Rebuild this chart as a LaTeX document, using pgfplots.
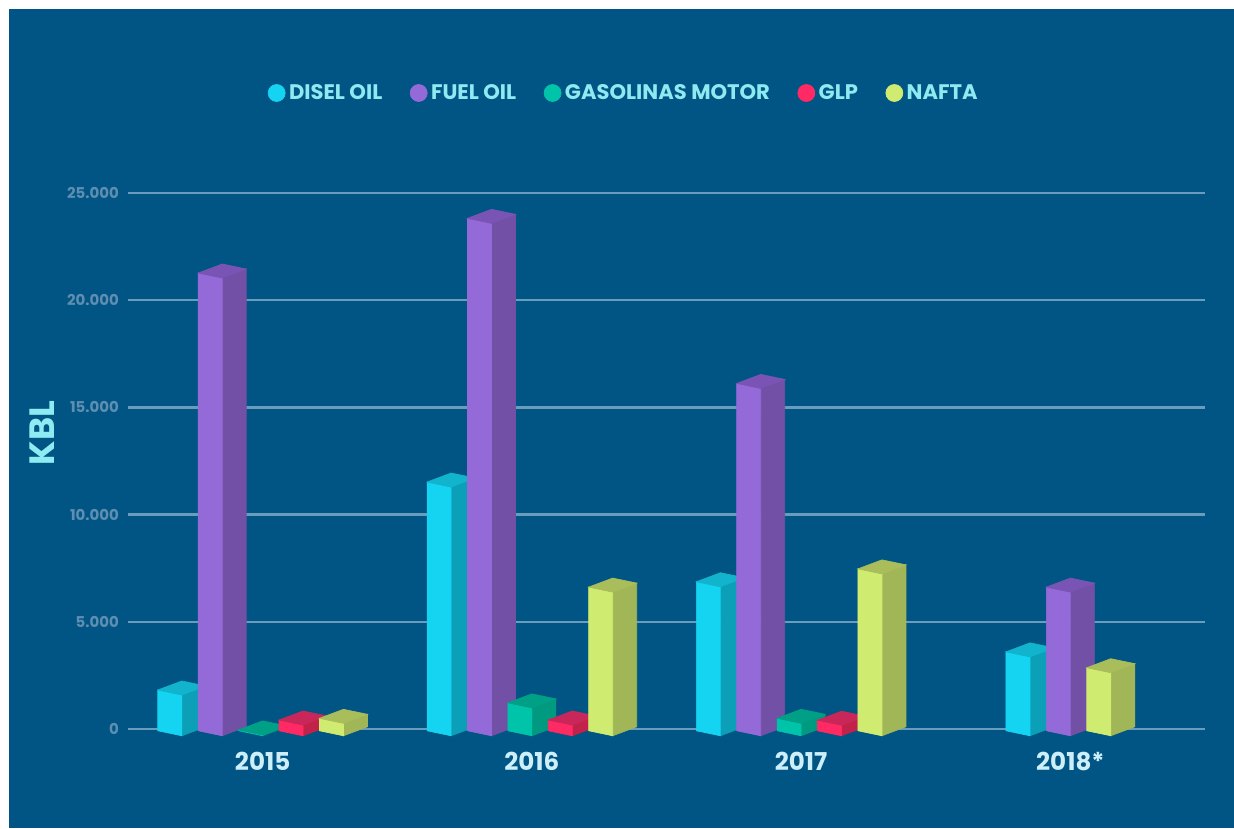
\documentclass[border=0pt]{standalone}
\usepackage{pgfplots}
\pgfplotsset{compat=1.18}
\usepackage{fontspec}
\setmainfont{Poppins}

\definecolor{bgc}{HTML}{015584}
\definecolor{gridc}{HTML}{6A9CBE}
\definecolor{tickc}{HTML}{5E8EB2}
\definecolor{kblc}{HTML}{8EEBF2}
\definecolor{legc}{HTML}{8CEAF0}
\definecolor{yearc}{HTML}{CDEFFA}
% front / side / top of each box
\definecolor{dieselF}{HTML}{14D4F2}\definecolor{dieselS}{HTML}{0BA0B8}\definecolor{dieselT}{HTML}{11B4CC}
\definecolor{fuelF}{HTML}{946AD9}\definecolor{fuelS}{HTML}{7250A6}\definecolor{fuelT}{HTML}{7A54B4}
\definecolor{gasF}{HTML}{00C4A9}\definecolor{gasS}{HTML}{009A81}\definecolor{gasT}{HTML}{00A086}
\definecolor{glpF}{HTML}{FF2A63}\definecolor{glpS}{HTML}{C22249}\definecolor{glpT}{HTML}{C9275A}
\definecolor{naftaF}{HTML}{D0EC70}\definecolor{naftaS}{HTML}{A1B656}\definecolor{naftaT}{HTML}{A9BE5A}

\pgfdeclareplotmark{nothing}{}

% 3D box, origin = centre of the top face; \h = height in mm
% (axis: 107.2mm for 25000 -> 0.004288mm per unit)
\newcommand\boxbar[1]{%
  \fill[#1S] (0mm,-1.35mm) -- (4.8mm,0.45mm) -- (4.8mm,0.45mm-\h mm) -- (0mm,-1.35mm-\h mm) -- cycle;
  \fill[#1F] (-4.8mm,-0.35mm) -- (0mm,-1.35mm) -- (0mm,-1.35mm-\h mm) -- (-4.8mm,-0.35mm-\h mm) -- cycle;
  \fill[#1T] (-4.8mm,-0.35mm) -- (0mm,-1.35mm) -- (4.8mm,0.45mm) -- (0mm,1.45mm) -- cycle;
}

\pgfplotsset{box3d/.style={scatter, only marks, mark=nothing,
  visualization depends on={0.004288*rawy \as \h},
  scatter/@pre marker code/.code={\boxbar{#1}},
  scatter/@post marker code/.code={},
  legend image code/.code={\fill[#1F] (0mm,0mm) circle (1.7mm);}}}

\begin{document}
\begin{tikzpicture}
\useasboundingbox (0,0) rectangle (246.8mm,165.6mm);
\fill[white] (0,0) rectangle (246.8mm,165.6mm);
\fill[bgc] (1.8mm,0) rectangle (246.8mm,163.8mm);
\begin{axis}[
  at={(25.6mm,19.8mm)}, anchor=south west,
  scale only axis, width=215.4mm, height=107.2mm,
  xmin=-0.5, xmax=3.5, ymin=0, ymax=25000,
  clip=false,
  axis line style={draw=none},
  major tick length=0pt,
  ytick={0,5000,10000,15000,20000,25000},
  xtick={0,1,2,3}, xticklabels={2015,2016,2017,2018*},
  scaled y ticks=false,
  /pgf/number format/1000 sep={.},
  /pgf/number format/assume math mode=true,
  yticklabel style={font=\fontsize{8.5}{10}\selectfont\bfseries, text=tickc, xshift=-0.6mm},
  xticklabel style={font=\fontsize{14}{16}\selectfont\bfseries, text=yearc, yshift=-3.3mm},
  ymajorgrids,
  major grid style={draw=gridc, line width=1.3pt},
  ylabel={KBL},
  ylabel style={at={(axis description cs:-0.0799,0.552)}, anchor=center,
    font=\fontsize{20}{24}\selectfont\bfseries, text=kblc},
  legend style={at={(axis description cs:0.461,1)}, anchor=center, yshift=20mm,
    draw=none, fill=none, text=legc, font=\fontsize{12}{14}\selectfont\bfseries,
    /tikz/every even column/.append style={column sep=4.8mm}},
  legend columns=5,
]
\addplot[box3d=diesel] coordinates {(-0.3,1900) (0.7,11600) (1.7,6950) (2.85,3680)};
\addlegendentry{DISEL OIL}
\addplot[box3d=fuel] coordinates {(-0.15,21350) (0.85,23900) (1.85,16200) (3,6700)};
\addlegendentry{FUEL OIL}
\addplot[box3d=gas] coordinates {(0,40) (1,1300) (2,580)};
\addlegendentry{GASOLINAS MOTOR}
\addplot[box3d=glp] coordinates {(0.15,500) (1.15,500) (2.15,490)};
\addlegendentry{GLP}
\addplot[box3d=nafta] coordinates {(0.3,580) (1.3,6700) (2.3,7550) (3.15,2940)};
\addlegendentry{NAFTA}
\end{axis}
\end{tikzpicture}
\end{document}
